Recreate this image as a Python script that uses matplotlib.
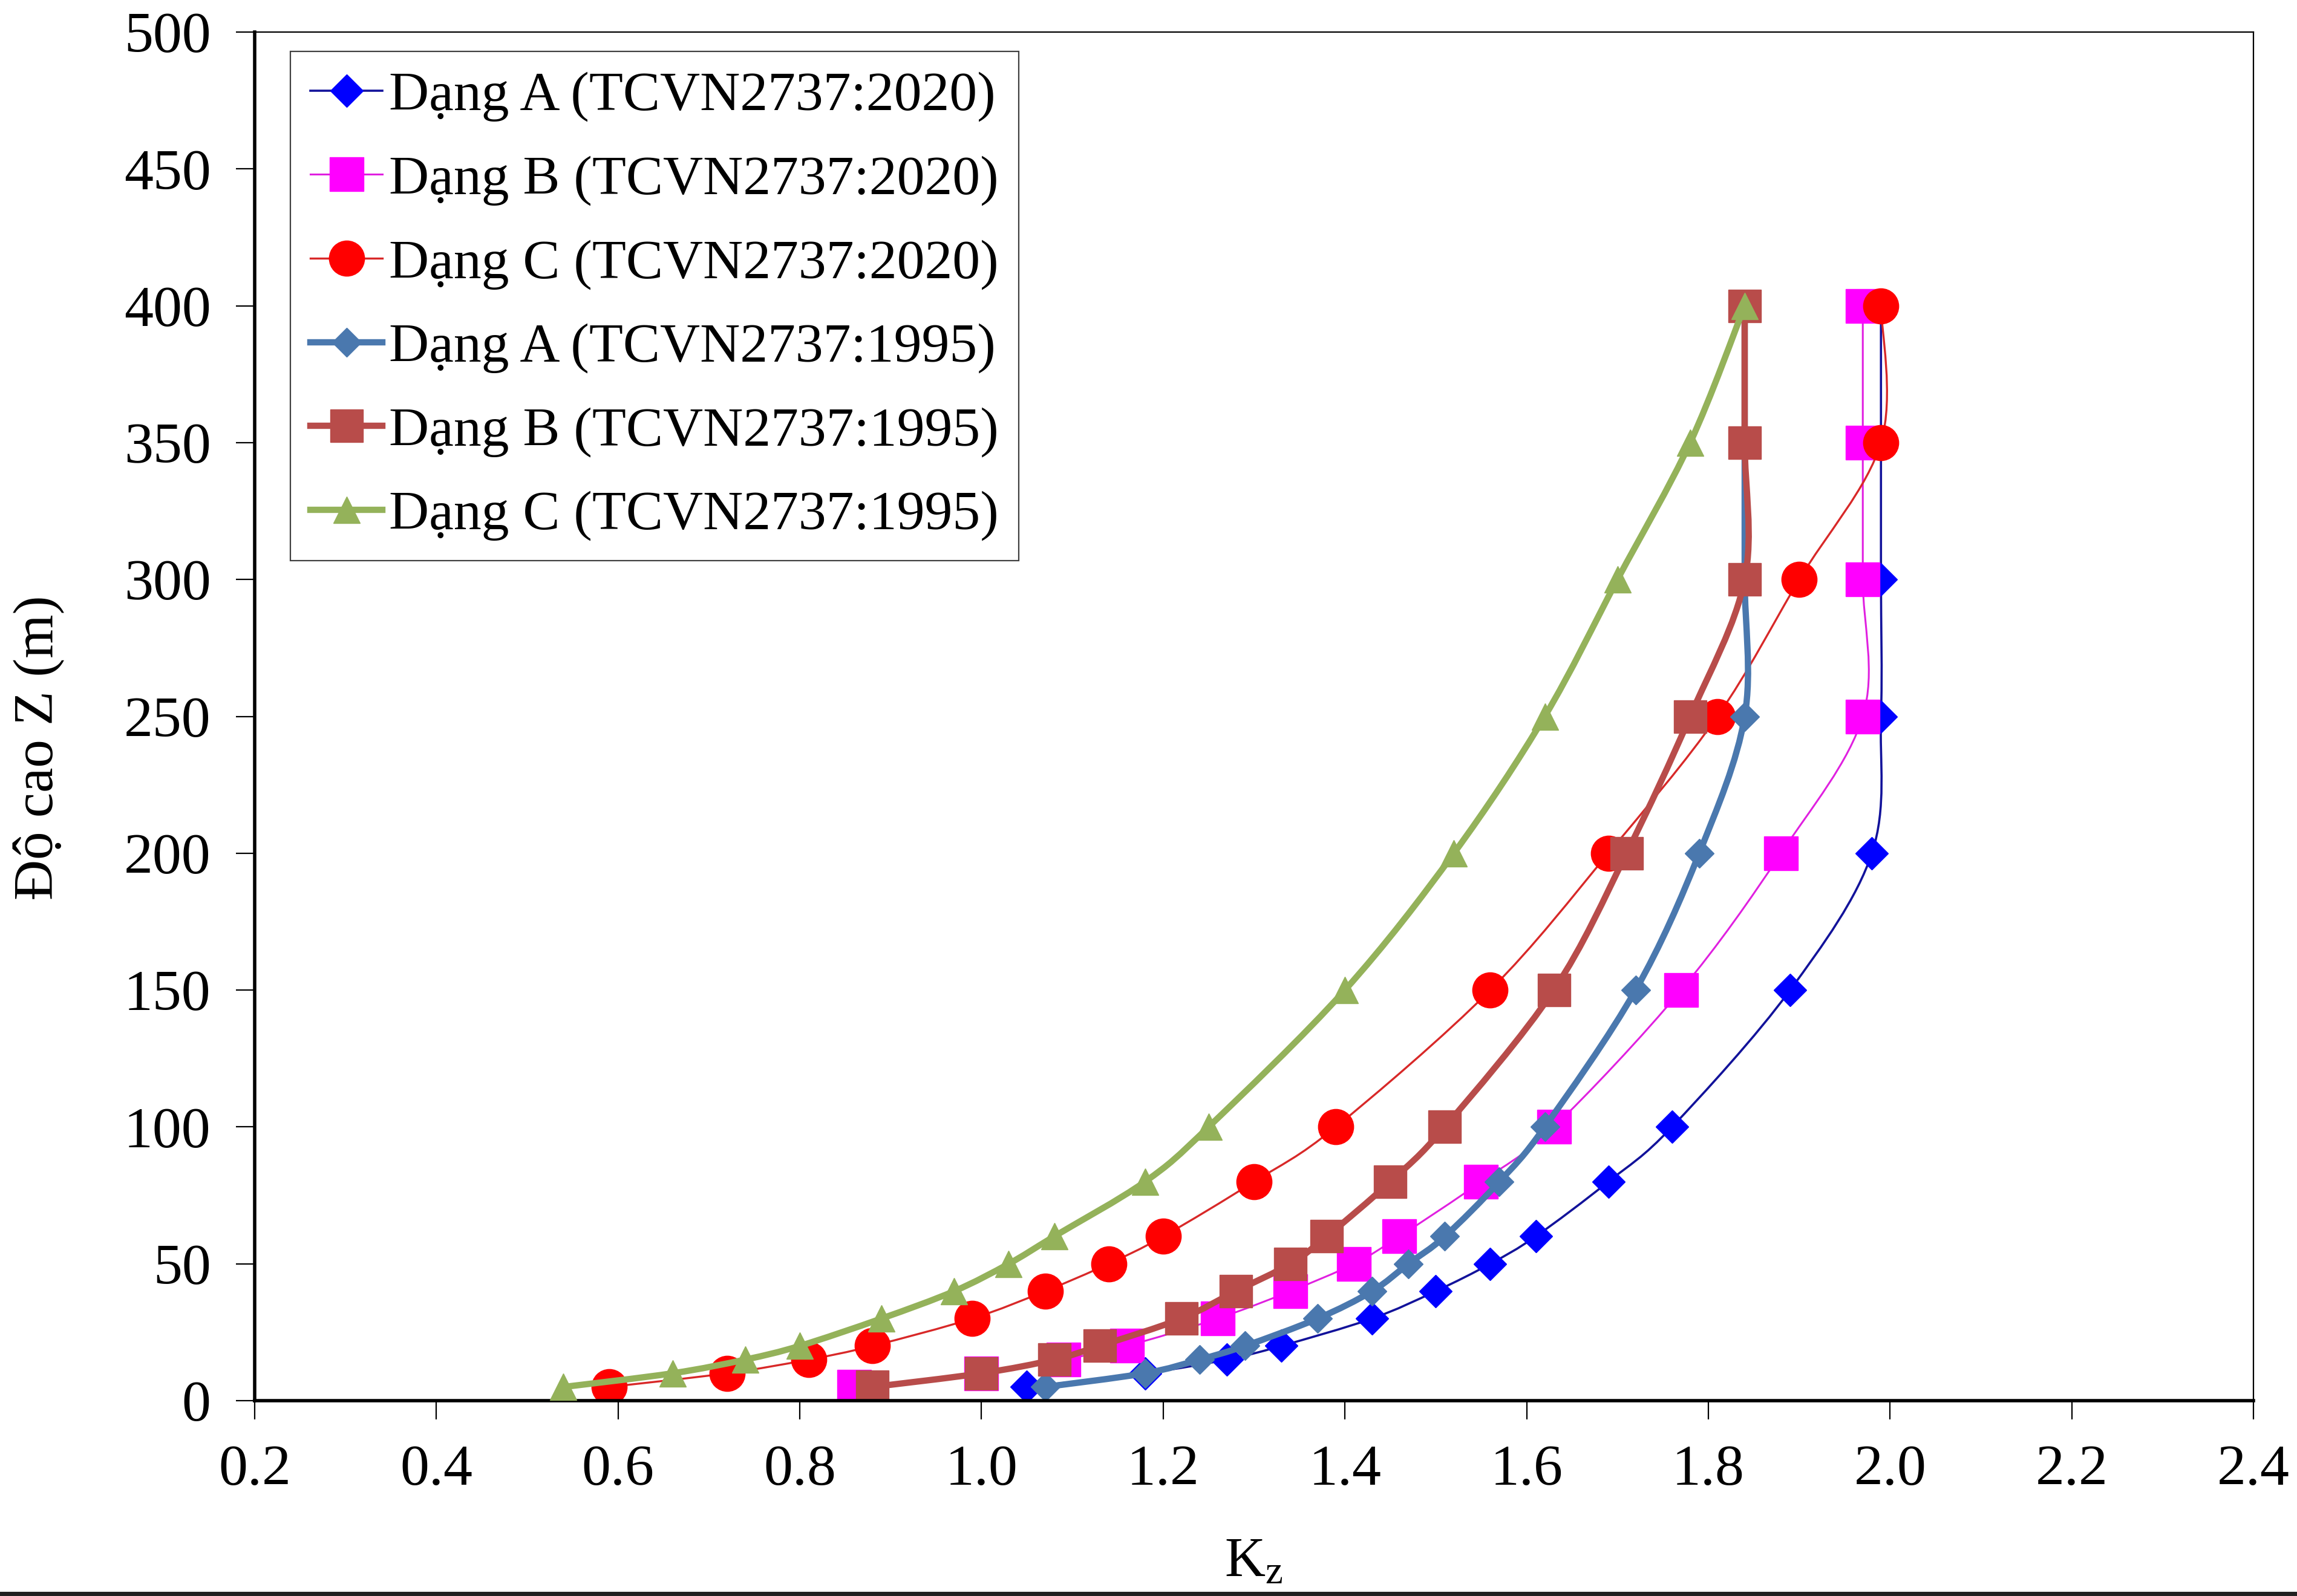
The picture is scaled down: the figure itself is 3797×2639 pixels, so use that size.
"""Kz profiles by height: TCVN2737:2020 vs TCVN2737:1995."""

import numpy as np
import matplotlib
matplotlib.use("Agg")
import matplotlib.pyplot as plt
from matplotlib.lines import Line2D
from matplotlib.path import Path
from matplotlib.patches import PathPatch

# heights (m) shared by every series
heights = [5, 10, 15, 20, 30, 40, 50, 60, 80, 100, 150, 200, 250, 300, 350, 400]

# Kz values
kz_a_2020 = [1.05, 1.18, 1.27, 1.33, 1.43, 1.50, 1.56, 1.61, 1.69, 1.76, 1.89, 1.98, 1.99, 1.99, 1.99, 1.99]
kz_b_2020 = [0.86, 1.00, 1.09, 1.16, 1.26, 1.34, 1.41, 1.46, 1.55, 1.63, 1.77, 1.88, 1.97, 1.97, 1.97, 1.97]
kz_c_2020 = [0.59, 0.72, 0.81, 0.88, 0.99, 1.07, 1.14, 1.20, 1.30, 1.39, 1.56, 1.69, 1.81, 1.90, 1.99, 1.99]
kz_a_1995 = [1.07, 1.18, 1.24, 1.29, 1.37, 1.43, 1.47, 1.51, 1.57, 1.62, 1.72, 1.79, 1.84, 1.84, 1.84, 1.84]
kz_b_1995 = [0.88, 1.00, 1.08, 1.13, 1.22, 1.28, 1.34, 1.38, 1.45, 1.51, 1.63, 1.71, 1.78, 1.84, 1.84, 1.84]
kz_c_1995 = [0.54, 0.66, 0.74, 0.80, 0.89, 0.97, 1.03, 1.08, 1.18, 1.25, 1.40, 1.52, 1.62, 1.70, 1.78, 1.84]

series_labels = [
    "Dạng A (TCVN2737:2020)",
    "Dạng B (TCVN2737:2020)",
    "Dạng C (TCVN2737:2020)",
    "Dạng A (TCVN2737:1995)",
    "Dạng B (TCVN2737:1995)",
    "Dạng C (TCVN2737:1995)",
]
series_values = [kz_a_2020, kz_b_2020, kz_c_2020, kz_a_1995, kz_b_1995, kz_c_1995]

x_ticks = [0.2, 0.4, 0.6, 0.8, 1.0, 1.2, 1.4, 1.6, 1.8, 2.0, 2.2, 2.4]
y_ticks = [0, 50, 100, 150, 200, 250, 300, 350, 400, 450, 500]

# line colour, marker colour, marker, marker size, line width
styles = [
    ("#12129A", "#0000FF", "D", 27, 2.6),
    ("#E020E0", "#FF00FF", "s", 40, 2.2),
    ("#D82828", "#FF0000", "o", 42, 2.4),
    ("#4A78AE", "#4A78AE", "D", 24, 7.5),
    ("#B84C4A", "#B84C4A", "s", 39, 7.5),
    ("#94B25A", "#94B25A", "^", 32, 7.5),
]

FONT = 66
plt.rcParams["font.family"] = ["Liberation Serif", "DejaVu Serif"]
plt.rcParams["mathtext.fontset"] = "custom"
plt.rcParams["mathtext.rm"] = "Liberation Serif"


def smooth_path(xs, ys):
    """Excel-like smoothed line: Catmull-Rom segments as cubic Bezier."""
    pts = np.column_stack([xs, ys]).astype(float)
    ext = np.vstack([pts[0], pts, pts[-1]])
    verts = [pts[0]]
    codes = [Path.MOVETO]
    for i in range(len(pts) - 1):
        p0, p1, p2, p3 = ext[i], ext[i + 1], ext[i + 2], ext[i + 3]
        verts += [p1 + (p2 - p0) / 6.0, p2 - (p3 - p1) / 6.0, p2]
        codes += [Path.CURVE4] * 3
    return Path(verts, codes)


fig = plt.figure(figsize=(37.98, 26.39), dpi=100)
ax = fig.add_axes([0.1108, 0.1224, 0.870, 0.8575])

handles = []
for i, (label, values) in enumerate(zip(series_labels, series_values)):
    line_color, mk_color, marker, ms, lw = styles[i]
    z = 2 + i * 0.1
    ax.add_patch(PathPatch(smooth_path(values, heights), facecolor="none",
                           edgecolor=line_color, lw=lw, zorder=z,
                           capstyle="round", joinstyle="round"))
    ax.plot(values, heights, linestyle="none", marker=marker, ms=ms,
            mfc=mk_color, mec=mk_color, mew=1.0, zorder=z + 0.05)
    handles.append(Line2D([0], [0], color=line_color, lw=lw, marker=marker,
                          ms=ms, mfc=mk_color, mec=mk_color, label=label))

ax.set_xlim(0.2, 2.4)
ax.set_ylim(0, 500)
ax.set_xticks(x_ticks)
ax.set_xticklabels([f"{t:.1f}" for t in x_ticks])
ax.set_yticks(y_ticks)
ax.tick_params(direction="out", length=22, width=1.6, labelsize=69, pad=30)

for side in ("left", "bottom"):
    ax.spines[side].set_linewidth(4.0)
for side in ("top", "right"):
    ax.spines[side].set_linewidth(1.6)

ax.set_xlabel(r"$\mathregular{K_z}$", fontsize=67, labelpad=48)
ax.set_ylabel("Độ cao Z (m)", fontsize=67)
ax.yaxis.set_label_coords(-0.095, 0.477)

leg = ax.legend(handles=handles, loc="upper left", bbox_to_anchor=(0.018, 0.986),
                borderaxespad=0, fontsize=FONT, numpoints=1, handlelength=1.3,
                handletextpad=0.12, labelspacing=0.6, borderpad=0.36,
                fancybox=False, framealpha=1)
leg.get_frame().set_edgecolor("#404040")
leg.get_frame().set_linewidth(1.6)

# dark edge along the bottom of the screenshot
fig.add_artist(Line2D([0, 1], [0.0015, 0.0015], transform=fig.transFigure,
                      color="#202020", lw=5))

fig.savefig("out.png", dpi=100, facecolor="white")
